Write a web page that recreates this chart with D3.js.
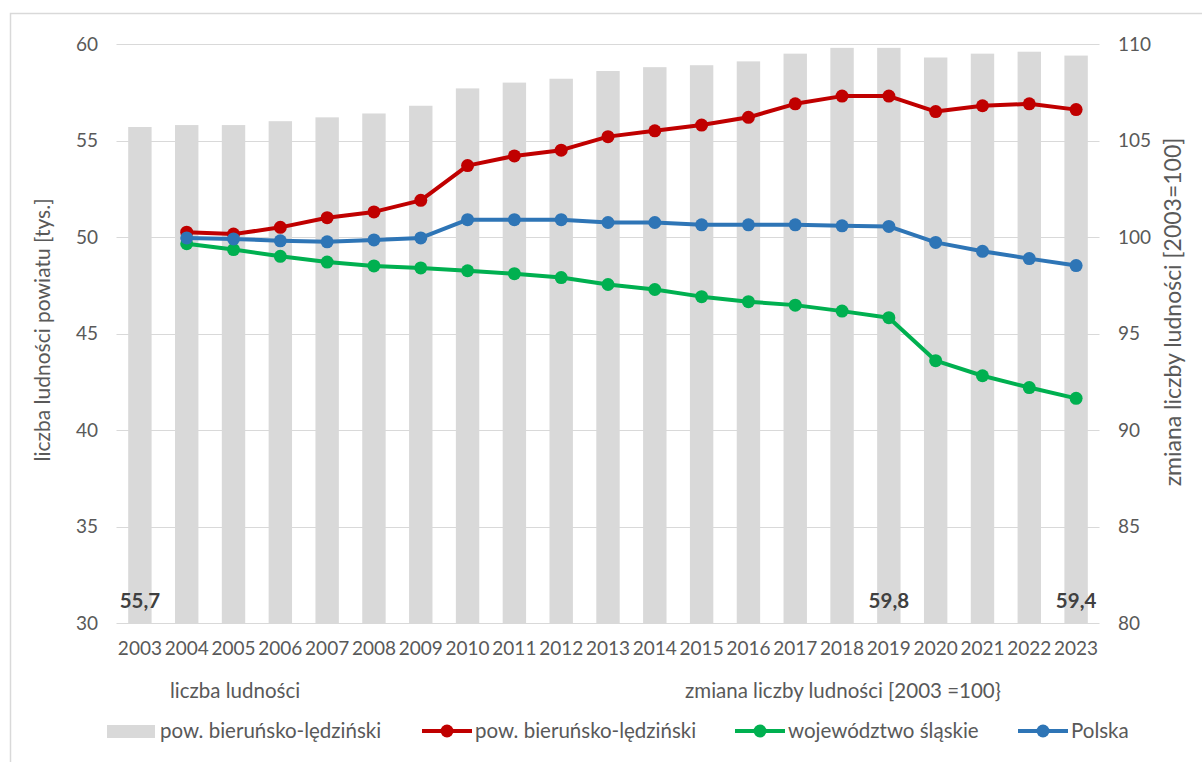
<!DOCTYPE html>
<html><head><meta charset="utf-8">
<script src="https://cdn.jsdelivr.net/npm/d3@7"></script>
<style>
html,body{margin:0;padding:0;background:#fff;}
svg{display:block;font-family:Lato,"Noto Sans",sans-serif;}
</style></head>
<body><svg id="c" width="1202" height="762"></svg>
<script>
const years = ["2003","2004","2005","2006","2007","2008","2009","2010","2011","2012","2013","2014","2015","2016","2017","2018","2019","2020","2021","2022","2023"];
const lineYears = years.slice(1);
const popBars = [55.7,55.8,55.8,56.0,56.2,56.4,56.8,57.7,58.0,58.2,58.6,58.8,58.9,59.1,59.5,59.8,59.8,59.3,59.5,59.6,59.4];
const idxPowiat = [100.25,100.15,100.5,101.0,101.3,101.9,103.7,104.2,104.5,105.2,105.5,105.8,106.2,106.9,107.3,107.3,106.5,106.8,106.9,106.6];
const idxSlaskie = [99.65,99.35,99.0,98.7,98.5,98.4,98.25,98.1,97.9,97.54,97.28,96.91,96.65,96.47,96.16,95.82,93.59,92.81,92.2,91.64];
const idxPolska = [99.95,99.9,99.8,99.75,99.85,99.95,100.9,100.9,100.9,100.75,100.75,100.63,100.63,100.63,100.58,100.55,99.72,99.26,98.88,98.52];
const leftTicks = [30,35,40,45,50,55,60];
const rightTicks = [80,85,90,95,100,105,110];
const barLabels = [{year:"2003",text:"55,7"},{year:"2019",text:"59,8"},{year:"2023",text:"59,4"}];
const seriesNames = ["pow. bieruńsko-lędziński","pow. bieruńsko-lędziński","województwo śląskie","Polska"];
const groupTitles = ["liczba ludności","zmiana liczby ludności [2003 =100}"];
const axisTitles = ["liczba ludności powiatu [tys.]","zmiana liczby ludności [2003=100]"];

const svg = d3.select("#c");
const txt = "#595959";
const L = 116.5, R = 1099.5, T = 44, B = 623;

svg.append("rect").attr("x",10.5).attr("y",13.5).attr("width",1250).attr("height",800)
  .attr("fill","#fff").attr("stroke","#d9d9d9").attr("stroke-width",1.5);

const x = d3.scaleBand().domain(years).range([L,R]).paddingInner(0.5).paddingOuter(0.25);
const yL = d3.scaleLinear().domain([30,60]).range([B,T]);
const yR = d3.scaleLinear().domain([80,110]).range([B,T]);

// gridlines
svg.append("g").selectAll("line").data(leftTicks).join("line")
  .attr("x1",L).attr("x2",R).attr("y1",d=>Math.round(yL(d))+0.5).attr("y2",d=>Math.round(yL(d))+0.5)
  .attr("stroke","#d9d9d9").attr("stroke-width",1);

// bars
svg.append("g").selectAll("rect").data(years).join("rect")
  .attr("x",d=>x(d)).attr("width",x.bandwidth())
  .attr("y",(d,i)=>yL(popBars[i])).attr("height",(d,i)=>B-yL(popBars[i]))
  .attr("fill","#d9d9d9");

// axes
const axL = d3.axisLeft(yL).tickValues(leftTicks).tickSize(0).tickPadding(0);
const gL = svg.append("g").attr("transform",`translate(98,0)`).call(axL);
gL.select(".domain").remove();
gL.selectAll("text").attr("fill",txt).style("font-size","19px").attr("font-family","Lato");

const axR = d3.axisRight(yR).tickValues(rightTicks).tickSize(0).tickPadding(0);
const gR = svg.append("g").attr("transform",`translate(1118,0)`).call(axR);
gR.select(".domain").remove();
gR.selectAll("text").attr("fill",txt).style("font-size","19px").attr("font-family","Lato");

const axB = d3.axisBottom(x).tickSize(0).tickPadding(0);
const gB = svg.append("g").attr("transform",`translate(0,${B+18})`).call(axB);
gB.select(".domain").remove();
gB.selectAll("text").attr("fill",txt).style("font-size","19px").attr("font-family","Lato");

// bar labels
svg.append("g").selectAll("text").data(barLabels).join("text")
  .attr("x",d=>x(d.year)+x.bandwidth()/2).attr("y",608)
  .attr("text-anchor","middle").attr("fill","#404040")
  .style("font-size","20.5px").style("font-weight","bold").text(d=>d.text);

// lines
const cx = d=>x(d)+x.bandwidth()/2;
const series = [
  {vals:idxPowiat,color:"#c00000"},
  {vals:idxSlaskie,color:"#00b050"},
  {vals:idxPolska,color:"#2e75b6"}
];
const line = d3.line().x(d=>cx(d.y)).y(d=>yR(d.v));
series.forEach(s=>{
  const pts = lineYears.map((y,i)=>({y,v:s.vals[i]}));
  const g = svg.append("g");
  g.append("path").datum(pts).attr("d",line).attr("fill","none")
    .attr("stroke",s.color).attr("stroke-width",4).attr("stroke-linejoin","round");
  g.selectAll("circle").data(pts).join("circle")
    .attr("cx",d=>cx(d.y)).attr("cy",d=>yR(d.v)).attr("r",6.5).attr("fill",s.color);
});

// axis titles
svg.append("text").attr("transform",`translate(50,330) rotate(-90)`)
  .attr("text-anchor","middle").attr("fill",txt).style("font-size","21px").text(axisTitles[0]);
svg.append("text").attr("transform",`translate(1181,312) rotate(-90)`)
  .attr("text-anchor","middle").attr("fill",txt).style("font-size","23px").text(axisTitles[1]);

// group titles
svg.append("text").attr("x",170).attr("y",698).attr("fill",txt).style("font-size","20.5px").text(groupTitles[0]);
svg.append("text").attr("x",685).attr("y",698).attr("fill",txt).style("font-size","20.5px").text(groupTitles[1]);

// legend
const ly = 731;
const lg = svg.append("g");
lg.append("rect").attr("x",107).attr("y",ly-6).attr("width",48).attr("height",13).attr("fill","#d9d9d9");
lg.append("text").attr("x",160).attr("y",ly+7).attr("fill",txt).style("font-size","20.5px").text(seriesNames[0]);
const legItems = [
  {x0:422,color:"#c00000",name:seriesNames[1]},
  {x0:735,color:"#00b050",name:seriesNames[2]},
  {x0:1018,color:"#2e75b6",name:seriesNames[3]}
];
legItems.forEach(it=>{
  lg.append("line").attr("x1",it.x0).attr("x2",it.x0+50).attr("y1",ly).attr("y2",ly)
    .attr("stroke",it.color).attr("stroke-width",4);
  lg.append("circle").attr("cx",it.x0+25).attr("cy",ly).attr("r",6.5).attr("fill",it.color);
  lg.append("text").attr("x",it.x0+53).attr("y",ly+7).attr("fill",txt).style("font-size","20.5px").text(it.name);
});
</script></body></html>
